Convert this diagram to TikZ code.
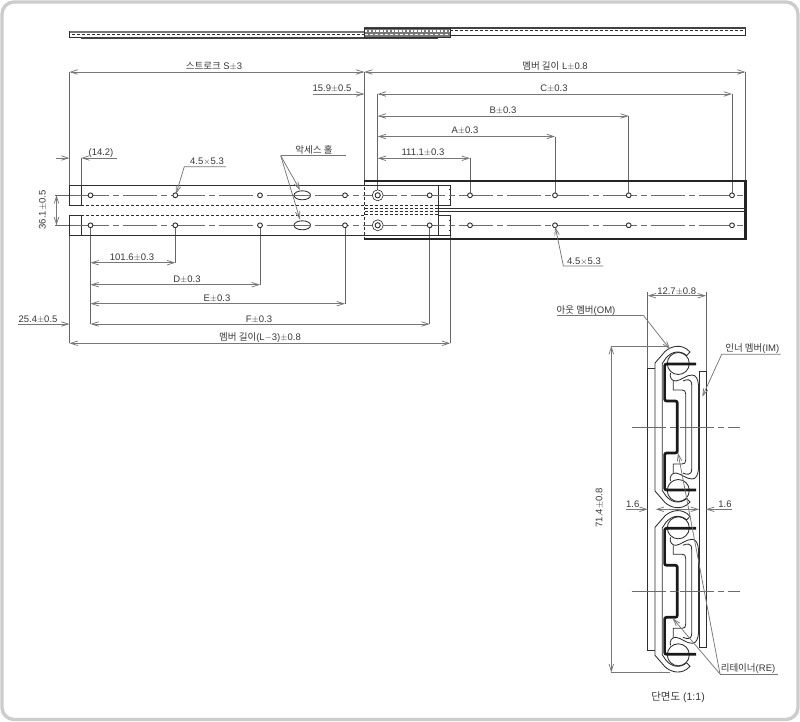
\documentclass[tikz,border=0pt]{standalone}
\usepackage{fontspec}
\setmainfont{Liberation Sans}
\newfontfamily\krfont{Noto Sans CJK KR}
\newcommand{\K}[1]{{\krfont #1}}
\newcommand{\pmm}{{\small$\pm$}}
\usetikzlibrary{arrows.meta}
\definecolor{ink}{HTML}{2E2E2E}
\definecolor{dimc}{HTML}{777777}
\definecolor{txt}{HTML}{383838}
\tikzset{
 lbl/.style={anchor=base,yshift=-3.4pt,inner sep=0pt,font=\fontsize{9.5}{11}\selectfont,text=txt},
 lblr/.style={lbl,rotate=90,yshift=3.4pt,xshift=3.4pt},
 dim/.style={draw=dimc,line width=.75pt},
 ext/.style={draw=dimc!85!black,line width=.95pt},
 da/.style={dim,{Straight Barb[length=7pt,width=4.5pt]}-{Straight Barb[length=7pt,width=4.5pt]}},
 dr/.style={dim,-{Straight Barb[length=7pt,width=4.5pt]}},
 obj/.style={draw=ink,line width=.85pt},
 thick obj/.style={draw=ink!80!black,line width=2.2pt},
 ctr/.style={draw=dimc!90!black,line width=.75pt,dash pattern=on 34pt off 4pt on 6pt off 4pt},
 hid/.style={draw=ink,line width=.6pt,dash pattern=on 3pt off 2pt},
 hole/.style={draw=ink,line width=.9pt,fill=white,circle,inner sep=0pt,minimum size=4.8pt},
}
\begin{document}
\begin{tikzpicture}[x=1pt,y=-1pt,line join=miter]
\useasboundingbox (0,0) rectangle (800,722);
\fill[white] (0,0) rectangle (800,722);
\draw[draw=black!20,line width=3.4pt,rounded corners=12pt] (2,2) rectangle (798,719.5);

% --- top side view
\draw[obj,fill=white] (69.5,31.7) rectangle (364,37.3);
\draw[draw=dimc,line width=1.8pt] (69.5,32) -- (364,32);
\draw[draw=ink!90,line width=1.8pt] (81.3,38.2) -- (438.3,38.2);
\draw[hid,line width=.5pt] (72,34.4) -- (364,34.4);
\fill[dimc] (364,28) rectangle (450.3,37);
\draw[obj,fill=white] (450.3,28.2) rectangle (745.5,35.6);
\draw[draw=ink!90,line width=1.8pt] (364,28.4) -- (745.5,28.4);
\draw[draw=white,line width=2pt,dash pattern=on 2.4pt off 1.4pt] (365,31) -- (450,31);
\draw[draw=white,line width=1pt,dash pattern=on 3pt off 2pt] (365,34.6) -- (450,34.6);
\draw[obj] (364,28) rectangle (450.3,37.3);
\draw[hid,line width=.5pt] (450.3,30.6) -- (744,30.6);

% --- main view: extension lines
\draw[ext] (69.5,72) -- (69.5,185);
\draw[ext] (69.5,235.3) -- (69.5,343.3);
\draw[ext] (364.3,72) -- (364.3,181);
\draw[ext] (745.5,72) -- (745.5,181);
\draw[ext] (81.3,158) -- (81.3,185);
\draw[ext] (377.7,94) -- (377.7,195);
\draw[ext] (470,158) -- (470,195);
\draw[ext] (555,137) -- (555,195);
\draw[ext] (628.7,116) -- (628.7,195);
\draw[ext] (732,94) -- (732,195);
\draw[ext] (90.5,225) -- (90.5,324);
\draw[ext] (175.3,225) -- (175.3,262.7);
\draw[ext] (260,225) -- (260,284.7);
\draw[ext] (345,225) -- (345,303.7);
\draw[ext] (429.7,225) -- (429.7,324);
\draw[ext] (450.3,235) -- (450.3,343.3);
\draw[ext] (55,195.3) -- (90,195.3);
\draw[ext] (55,225.3) -- (90,225.3);

% --- main view: body
\draw[obj] (81.3,185) -- (69.5,185) -- (69.5,205.3) -- (81.3,205.3) -- cycle;
\draw[obj] (81.3,215) -- (69.5,215) -- (69.5,235.3) -- (81.3,235.3) -- cycle;
\draw[obj] (81.3,185) -- (450.3,185) -- (450.3,205.3) -- (438.7,205.3);
\draw[obj] (81.3,235.3) -- (450.3,235.3) -- (450.3,215) -- (438.7,215);
\draw[obj] (438.7,185) -- (438.7,235.3);
\draw[hid] (81.3,205.3) -- (364,205.3);
\draw[hid] (81.3,215) -- (364,215);
\foreach \yy in {205.3,208.5,211.7,214.8} \draw[hid,line width=.8pt] (364.5,\yy) -- (438.5,\yy);
\foreach \yy in {190,200,220,230} \draw[draw=ink,line width=1pt] (448.5,\yy) -- (450.3,\yy);
\draw[thick obj] (364.3,181.3) -- (745.5,181.3) -- (745.5,238.8) -- (364.3,238.8);
\draw[hid] (364.3,182) -- (364.3,238);
\draw[draw=ink,line width=1.3pt] (438.7,208.3) -- (745.5,208.3);
\draw[draw=ink,line width=1.3pt] (438.7,211.7) -- (745.5,211.7);

\draw[ctr] (75,195.3) -- (745,195.3);
\draw[ctr] (75,225.3) -- (745,225.3);

\foreach \hx/\hy in {90.5/u1,175.3/u2,260/u3,345/u4,429.7/u5,470/u6,555/u7,628.7/u8,732/u9} {
  \node[hole] (h\hy) at (\hx,195.3) {};
  \node[hole] (l\hy) at (\hx,225.3) {};
}
\foreach \yy/\nn in {195.3/a,225.3/b} {
  \node[hole,minimum size=11pt,line width=.6pt] (mo\nn) at (377.7,\yy) {};
  \node[hole,minimum size=5.2pt] (mi\nn) at (377.7,\yy) {};
}
\draw[obj,fill=white] (302.3,195.3) ellipse (8.3 and 4.5);
\draw[obj,fill=white] (302.3,225.3) ellipse (8.3 and 4.5);
\draw[ctr] (294,195.3) -- (311,195.3);
\draw[ctr] (294,225.3) -- (311,225.3);

% --- main view: dimensions
\draw[da] (69.5,72) -- (364.3,72);
\draw[da] (364.3,72) -- (745.5,72);
\node[lbl] (tS) at (214,66.5) {\K{스트로크} S\pmm3};
\node[lbl] (tL) at (555,66.5) {\K{멤버 길이} L\pmm0.8};
\draw[dr] (313,94) -- (364.3,94);
\node[lbl] (t159) at (332,88.5) {15.9\pmm0.5};
\draw[da] (377.7,94) -- (732,94);
\node[lbl] (tC) at (554,88.5) {C\pmm0.3};
\draw[da] (377.7,116) -- (628.7,116);
\node[lbl] (tB) at (503,110.5) {B\pmm0.3};
\draw[da] (377.7,136.5) -- (555,136.5);
\node[lbl] (tA) at (465,130.5) {A\pmm0.3};
\draw[da] (377.7,158.3) -- (470,158.3);
\node[lbl] (t111) at (423,152.5) {111.1\pmm0.3};
\draw[dr] (56,158) -- (69.5,158);
\draw[dr] (116.7,158) -- (81.3,158);
\node[lbl] (t142) at (101,152.5) {(14.2)};
\draw[dim,-{Straight Barb[length=7pt,width=4.5pt]}] (226,166.7) -- (184.3,166.7) -- (176,194);
\node[lbl] (th1) at (207,161.5) {4.5$\times$5.3};
\draw[da] (56.5,195.3) -- (56.5,225.3);
\node[lblr] (t361) at (49,210) {36.1\pmm0.5};
\draw[da] (90.5,262.7) -- (175.3,262.7);
\node[lbl] (t101) at (132,257) {101.6\pmm0.3};
\draw[da] (90.5,284.7) -- (260,284.7);
\node[lbl] (tD) at (187,279) {D\pmm0.3};
\draw[da] (90.5,303.7) -- (345,303.7);
\node[lbl] (tE) at (217,298) {E\pmm0.3};
\draw[da] (90.5,324) -- (429.7,324);
\node[lbl] (tF) at (259,319) {F\pmm0.3};
\draw[dr] (18,324) -- (69.5,324);
\node[lbl] (t254) at (38,318.8) {25.4\pmm0.5};
\draw[da] (69.5,343.3) -- (450.3,343.3);
\node[lbl] (tM) at (260,337.5) {\K{멤버 길이}(L$-$3)\pmm0.8};
\draw[dim] (346,155.7) -- (280.7,155.7);
\draw[dr] (280.7,155.7) -- (300,190);
\draw[dr] (280.7,155.7) -- (300,219.5);
\node[lbl] (tAcc) at (314,150) {\K{악세스 홀}};
\draw[dim,-{Straight Barb[length=7pt,width=4.5pt]}] (603.3,266) -- (563.4,266) -- (555.3,227);
\node[lbl] (th2) at (584,261) {4.5$\times$5.3};

% --- cross section
\draw[ext] (647.7,292) -- (647.7,368.3);
\draw[ext] (706,292) -- (706,371.7);
\draw[obj] (655.3,368.3) -- (647.7,368.3) -- (647.7,650.7) -- (655.3,650.7);
\draw[obj] (699,647) -- (699,371.7) -- (706,371.7) -- (706,647) -- (699,647);
\foreach \cy/\sg in {427/1,427/-1,591.3/1,591.3/-1} {
 \begin{scope}[shift={(0,\cy)},yscale=\sg]
  \draw[obj] (655,0) -- (655,-64) -- (665,-75.5) .. controls (671,-81) and (682,-84) .. (690,-75) -- (686.7,-71.5) .. controls (680,-77) and (672,-76) .. (666,-69) -- (662.3,-63.5) -- (662.3,0);
  \draw[obj] (678.3,-63.5) circle (11);
  \draw[obj] (670.5,-54) .. controls (669,-50) and (672,-45.5) .. (676,-46) .. controls (682,-47) and (686,-52) .. (692,-52) .. controls (696,-52) and (698,-48) .. (698.5,-42) -- (698.5,0);
  \draw[obj] (673.3,-46) -- (673.3,-37) -- (682,-37) .. controls (684.5,-37) and (685.7,-36) .. (685.7,-33) -- (685.7,0);
  \draw[obj] (683,-46) .. controls (686,-47.5) and (691.7,-49) .. (691.7,-42) -- (691.7,0);
  \draw[draw=black!90,line width=2.7pt,rounded corners=2pt] (696,-63) -- (664.6,-63) -- (664.6,-26) -- (677.3,-26) -- (677.3,0);
 \end{scope}
}
\draw[ctr] (631.7,427) -- (740,427);
\draw[ctr] (631.7,591.3) -- (740,591.3);

\draw[da] (647.7,295.7) -- (706,295.7);
\node[lbl] (t127) at (676.7,291) {12.7\pmm0.8};
\draw[dim] (611.3,346) -- (668,346);
\draw[dim] (611.3,672.3) -- (670,672.3);
\draw[da] (611.3,346) -- (611.3,672.3);
\node[lblr] (t714) at (605.7,508) {71.4\pmm0.8};
\draw[dr] (626,509.3) -- (647.7,509.3);
\draw[dr] (732,509.3) -- (706,509.3);
\draw[da] (655.7,509.3) -- (699,509.3);
\node[lbl] (tl16) at (632.7,504) {1.6};
\node[lbl] (tr16) at (725,504) {1.6};
\draw[dim] (556.7,315.3) -- (643.3,315.3);
\draw[dr] (643.3,315.3) -- (670,349.3);
\node[lbl] (tOM) at (586,310) {\K{아웃 멤버}(OM)};
\draw[dim,-{Straight Barb[length=7pt,width=4.5pt]}] (780.7,354.3) -- (721.7,354.3) -- (702.3,396.7);
\node[lbl] (tIM) at (752.3,348) {\K{인너 멤버}(IM)};
\draw[dim] (778.3,674) -- (720,674);
\draw[dr] (720,674) -- (678,453);
\draw[dr] (720,674) -- (672.7,618.3);
\node[lbl] (tRE) at (748,668) {\K{리테이너}(RE)};
\node[lbl,font=\fontsize{10.5}{12}\selectfont] (tSec) at (678,697) {\K{단면도} (1:1)};
\end{tikzpicture}
\end{document}
